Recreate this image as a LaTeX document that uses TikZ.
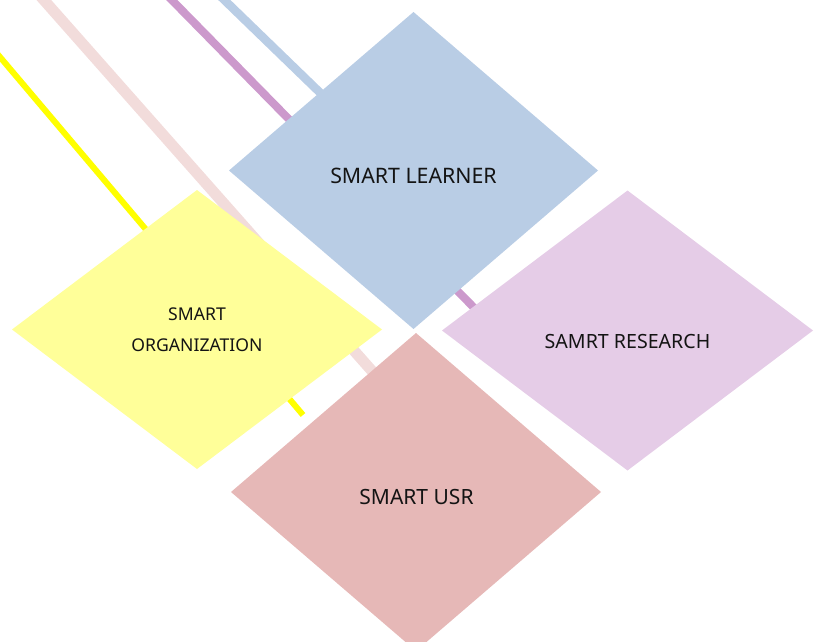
\documentclass[tikz,border=0pt]{standalone}
\usepackage{fontspec}
\setmainfont{Noto Sans}
\usetikzlibrary{shapes.geometric}
\definecolor{blueD}{HTML}{B9CDE5}
\definecolor{yellowD}{HTML}{FFFF99}
\definecolor{purpleD}{HTML}{E5CCE7}
\definecolor{pinkD}{HTML}{E6B8B7}
\definecolor{yellowL}{HTML}{FFFF00}
\definecolor{pinkL}{HTML}{F2DCDB}
\definecolor{purpleL}{HTML}{CC99CC}
\definecolor{blueL}{HTML}{B9CDE5}
\definecolor{txt}{HTML}{141414}
\begin{document}
\begin{tikzpicture}[x=1pt,y=-1pt,
  dia/.style={diamond, inner sep=0pt, outer sep=0pt, draw=none},
  lbl/.style={text=txt, inner sep=0pt},
  deco/.style={line cap=butt}]
\useasboundingbox (0,0) rectangle (819,642);
\begin{scope}
\clip (0,0) rectangle (819,642);
% background lines
\coordinate (y1) at (-10,45.2);
\coordinate (y2) at (303,415);
\coordinate (p1) at (35,-10);
\coordinate (p2) at (395,397);
\coordinate (m1) at (162,-10);
\coordinate (m2) at (490,324);
\coordinate (b1) at (214,-10);
\coordinate (b2) at (340,112);
\draw[deco, yellowL, line width=6pt] (y1) -- (y2);
\draw[deco, pinkL, line width=11pt] (p1) -- (p2);
\draw[deco, purpleL, line width=8pt] (m1) -- (m2);
\draw[deco, blueL, line width=8.5pt] (b1) -- (b2);
% diamonds
\node[dia, fill=blueD, minimum width=369pt, minimum height=317pt] (learner) at (413.5,170.5) {};
\node[dia, fill=yellowD, minimum width=370pt, minimum height=279pt] (org) at (197,329.5) {};
\node[dia, fill=purpleD, minimum width=371pt, minimum height=280pt] (research) at (627.5,330.5) {};
\node[dia, fill=pinkD, minimum width=370pt, minimum height=318pt] (usr) at (416,492) {};
\end{scope}
% labels
\node[lbl, font=\fontsize{21.3}{25}\selectfont] (tlearner) at (413.5,175.5) {SMART LEARNER};
\node[lbl, font=\fontsize{17.6}{31}\selectfont, align=center] (torg) at (197,329.5) {SMART\\ORGANIZATION};
\node[lbl, font=\fontsize{19.6}{24}\selectfont] (tresearch) at (627.5,341) {SAMRT RESEARCH};
\node[lbl, font=\fontsize{21}{25}\selectfont] (tusr) at (416.5,497) {SMART USR};
\end{tikzpicture}
\end{document}
